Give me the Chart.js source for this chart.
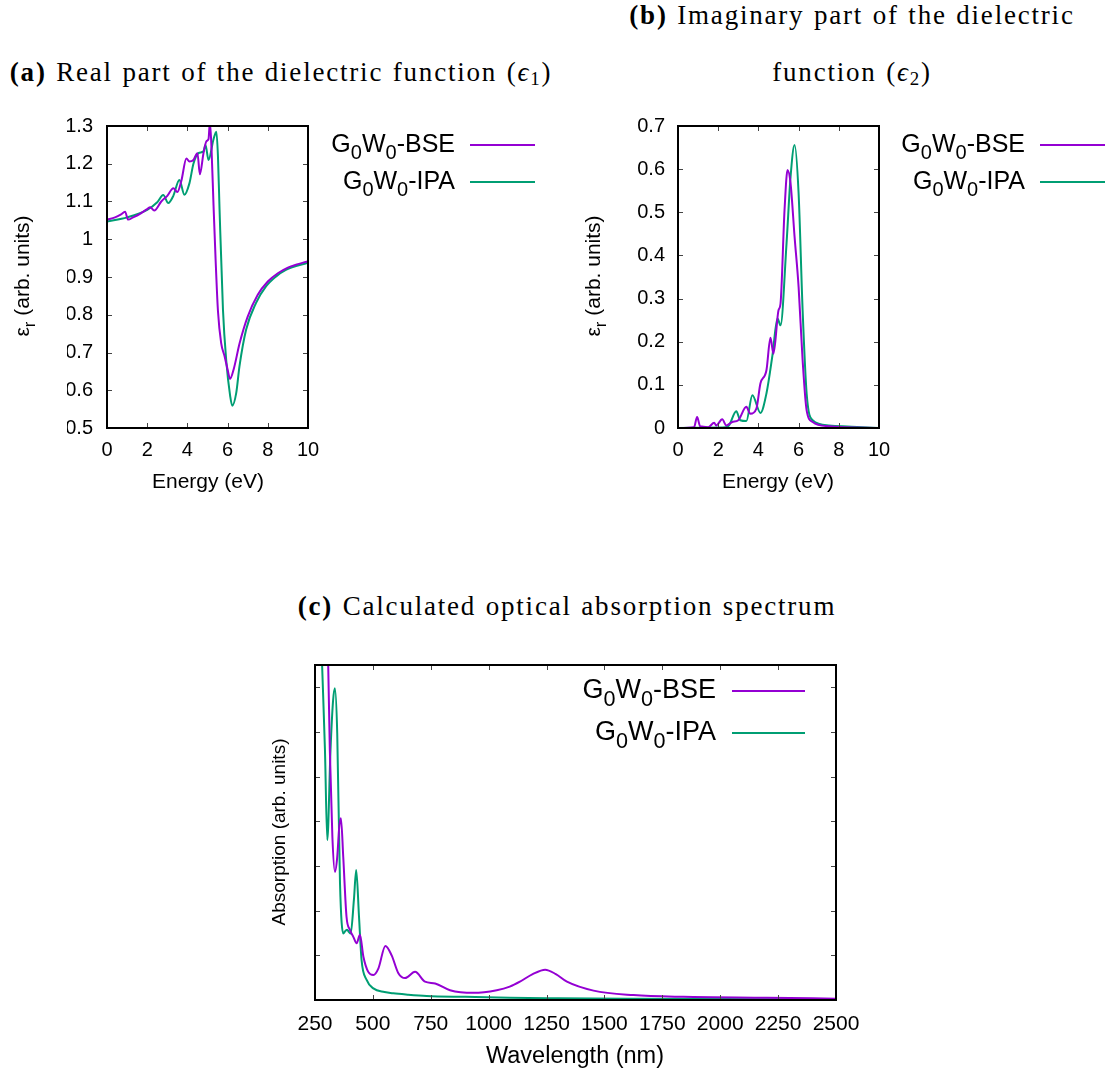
<!DOCTYPE html>
<html>
<head>
<meta charset="utf-8">
<script src="https://cdn.jsdelivr.net/npm/chart.js@4.4.0/dist/chart.umd.min.js"></script>
<style>
  body { margin: 0; background: #fff; width: 1109px; height: 1080px; position: relative; overflow: hidden; }
  canvas { position: absolute; left: 0; top: 0; }
  .ttl { position: absolute; font-family: "Liberation Serif", "Times New Roman", serif; font-size: 27px;
         letter-spacing: 1.8px; word-spacing: 1px;
         color: #000; white-space: nowrap; transform: translate(-50%, -50%); line-height: 1; }
  .ttl sub { font-size: 0.7em; vertical-align: -0.25em; line-height: 0; }
</style>
</head>
<body>
<div class="ttl" style="left:281px;top:72px"><b>(a)</b> Real part of the dielectric function (<i>&#x3F5;</i><sub>1</sub>)</div>
<div class="ttl" style="left:852px;top:15px"><b>(b)</b> Imaginary part of the dielectric</div>
<div class="ttl" style="left:852px;top:72px">function (<i>&#x3F5;</i><sub>2</sub>)</div>
<div class="ttl" style="left:567px;top:606px"><b>(c)</b> Calculated optical absorption spectrum</div>

<canvas id="cA" width="1109" height="1080"></canvas>
<canvas id="cB" width="1109" height="1080"></canvas>
<canvas id="cC" width="1109" height="1080"></canvas>

<script>
// ---------- data ----------
// (a) real part, energy in eV
const eA_bse = [0, 0.4, 0.7, 0.9, 1.05, 1.3, 1.6, 2.0, 2.15, 2.35, 2.7, 3.0, 3.3, 3.5, 3.7, 3.95, 4.1, 4.3, 4.5, 4.62,
                4.8, 4.95, 5.05, 5.12, 5.2, 5.3, 5.4, 5.52, 5.68, 5.85, 6.0, 6.12, 6.3, 6.6, 7.0, 7.5, 8.0, 8.5, 9.0, 9.5, 10];
const eps1_bse = [1.052, 1.058, 1.066, 1.073, 1.052, 1.058, 1.066, 1.080, 1.085, 1.076, 1.100, 1.115, 1.135, 1.125, 1.155,
                  1.214, 1.206, 1.210, 1.228, 1.172, 1.228, 1.260, 1.265, 1.31, 1.24, 1.09, 0.95, 0.81, 0.725, 0.69, 0.655,
                  0.63, 0.655, 0.725, 0.795, 0.853, 0.888, 0.910, 0.925, 0.934, 0.942];
const eA_ipa = [0, 1.0, 2.0, 2.5, 2.8, 3.05, 3.3, 3.6, 3.85, 4.1, 4.3, 4.55, 4.8, 4.9, 5.05, 5.3, 5.44, 5.52, 5.6, 5.77,
                5.93, 6.13, 6.23, 6.43, 6.59, 6.92, 7.41, 7.91, 8.4, 8.9, 10];
const eps1_ipa = [1.047, 1.058, 1.078, 1.098, 1.117, 1.096, 1.115, 1.157, 1.118, 1.148, 1.200, 1.228, 1.233, 1.25, 1.21,
                  1.265, 1.285, 1.22, 1.078, 0.813, 0.68, 0.584, 0.559, 0.593, 0.663, 0.76, 0.831, 0.875, 0.901, 0.919, 0.938];

// (b) imaginary part
const eB_bse = [0, 0.8, 0.95, 1.1, 1.5, 1.8, 1.9, 2.2, 2.4, 2.7, 3.0, 3.4, 3.6, 3.9, 4.1, 4.4, 4.6, 4.75, 5.0, 5.1,
                5.3, 5.45, 5.6, 5.8, 6.0, 6.2, 6.4, 6.7, 7.5, 10];
const eps2_bse = [0, 0.002, 0.0255, 0.004, 0.002, 0.012, 0.006, 0.02, 0.006, 0.014, 0.018, 0.049, 0.033, 0.045, 0.103,
                  0.134, 0.209, 0.172, 0.273, 0.288, 0.505, 0.598, 0.567, 0.443, 0.327, 0.157, 0.041, 0.014, 0.004, 0];
const eB_ipa = [0, 2.2, 2.5, 2.9, 3.1, 3.4, 3.7, 4.1, 4.4, 4.7, 4.95, 5.1, 5.4, 5.6, 5.8, 6.0, 6.2, 6.4, 6.7, 7.5, 10];
const eps2_ipa = [0, 0.001, 0.004, 0.039, 0.018, 0.016, 0.076, 0.035, 0.08, 0.169, 0.254, 0.238, 0.428, 0.582, 0.656,
                  0.544, 0.273, 0.08, 0.018, 0.006, 0];

// (c) absorption, wavelength in nm
const wl_bse = [290, 300, 307, 314, 325, 336, 346, 355, 362, 372, 386, 401, 415, 430, 444, 459, 480, 502, 524, 554,
                581, 610, 639, 682, 725, 769, 833, 934, 1035, 1091, 1135, 1190, 1244, 1290, 1338, 1453, 1625, 1841, 2201, 2500];
const abs_bse = [11, 8.6, 7.5, 5.6, 3.66, 2.87, 3.2, 3.9, 4.07, 3.2, 1.87, 1.57, 1.42, 1.27, 1.46, 0.97, 0.63, 0.56, 0.71,
                 1.21, 1.0, 0.6, 0.49, 0.63, 0.41, 0.37, 0.22, 0.16, 0.22, 0.30, 0.41, 0.58, 0.68, 0.58, 0.41, 0.21, 0.11,
                 0.07, 0.05, 0.03];
const wl_ipa = [265, 280, 293, 303, 317, 328, 336, 346, 358, 372, 382, 389, 397, 404, 418, 428, 440, 451, 473, 502, 550,
                588, 650, 732, 900, 1091, 1300, 1600, 2000, 2500];
const abs_ipa = [10, 7.6, 5.6, 3.58, 5.6, 6.7, 6.98, 5.97, 2.61, 1.49, 1.55, 1.57, 1.52, 1.49, 2.24, 2.91, 1.87, 0.90,
                 0.45, 0.26, 0.18, 0.15, 0.12, 0.09, 0.07, 0.05, 0.04, 0.03, 0.02, 0.015];

const seriesNames = ['-BSE', '-IPA'];
const PURPLE = '#9400d3';
const GREEN = '#009e73';
const SANS = '"Liberation Sans", Arial, sans-serif';
const W = 1109, H = 1080;

function fnt(size) { return size + 'px ' + SANS; }

// text with subscripts: parts = [[text, isSub], ...]
function richWidth(ctx, parts, size) {
  let w = 0;
  parts.forEach(([t, sub]) => { ctx.font = fnt(sub ? size * 0.8 : size); w += ctx.measureText(t).width; });
  return w;
}
function drawRich(ctx, parts, x, y, size, align) {
  const w = richWidth(ctx, parts, size);
  let cx = align === 'right' ? x - w : align === 'center' ? x - w / 2 : x;
  ctx.textAlign = 'left';
  ctx.textBaseline = 'alphabetic';
  ctx.fillStyle = '#000';
  parts.forEach(([t, sub]) => {
    ctx.font = fnt(sub ? size * 0.8 : size);
    ctx.fillText(t, cx, sub ? y + size * 0.28 : y);
    cx += ctx.measureText(t).width;
  });
}

// gnuplot-ish frame, mirrored inward ticks, legend and axis titles
function gpPlugin(spec) {
  return {
    id: 'gp',
    afterDatasetsDraw(chart) {
      const { ctx, chartArea: a, scales } = chart;
      const T = 5;
      ctx.save();
      ctx.strokeStyle = '#444';
      ctx.lineWidth = 1;
      ctx.beginPath();
      scales.x.ticks.forEach(t => {
        const px = Math.round(scales.x.getPixelForValue(t.value)) + 0.5;
        ctx.moveTo(px, a.bottom); ctx.lineTo(px, a.bottom - T);
        ctx.moveTo(px, a.top); ctx.lineTo(px, a.top + T);
      });
      scales.y.ticks.forEach(t => {
        const py = Math.round(scales.y.getPixelForValue(t.value)) + 0.5;
        ctx.moveTo(a.left, py); ctx.lineTo(a.left + T, py);
        ctx.moveTo(a.right, py); ctx.lineTo(a.right - T, py);
      });
      ctx.stroke();
      ctx.strokeStyle = '#000';
      ctx.lineWidth = 2;
      ctx.strokeRect(a.left, a.top, a.right - a.left, a.bottom - a.top);

      // legend: text right-aligned, sample line to the right
      spec.legend.rows.forEach((r, i) => {
        const parts = [['G', 0], ['0', 1], ['W', 0], ['0', 1], [seriesNames[i], 0]];
        drawRich(ctx, parts, spec.legend.textRight, r.base, spec.legend.size, 'right');
        ctx.strokeStyle = chart.data.datasets[i].borderColor;
        ctx.lineWidth = 2;
        ctx.beginPath();
        ctx.moveTo(spec.legend.x0, r.line);
        ctx.lineTo(spec.legend.x1, r.line);
        ctx.stroke();
      });

      // x title
      drawRich(ctx, [[spec.xTitle.text, 0]], spec.xTitle.x, spec.xTitle.y, spec.xTitle.size, 'center');
      // y title, rotated
      ctx.save();
      ctx.translate(spec.yTitle.x, spec.yTitle.y);
      ctx.rotate(-Math.PI / 2);
      drawRich(ctx, spec.yTitle.parts, 0, 0, spec.yTitle.size, 'center');
      ctx.restore();
      ctx.restore();
    }
  };
}

function series(xs, ys, color) {
  return {
    data: xs.map((x, i) => ({ x: x, y: ys[i] })),
    borderColor: color,
    borderWidth: 2,
    pointRadius: 0,
    fill: false,
    cubicInterpolationMode: 'monotone'
  };
}

function makeChart(id, box, axes, datasets, spec) {
  const yW = 40, xH = 40;
  return new Chart(document.getElementById(id), {
    type: 'line',
    data: { datasets: datasets },
    options: {
      responsive: false,
      animation: false,
      events: [],
      layout: { padding: { left: box.L - yW, top: box.T, right: W - box.R, bottom: H - box.B - xH } },
      plugins: { legend: { display: false }, tooltip: { enabled: false } },
      scales: {
        x: {
          type: 'linear', min: axes.x.min, max: axes.x.max,
          grid: { display: false, drawTicks: false }, border: { display: false },
          ticks: { stepSize: axes.x.step, color: '#000', font: { family: SANS, size: axes.x.size },
                   padding: axes.x.pad, maxRotation: 0, autoSkip: false, callback: v => String(+v.toFixed(2)) },
          afterFit: s => { s.height = xH; }
        },
        y: {
          type: 'linear', min: axes.y.min, max: axes.y.max,
          grid: { display: false, drawTicks: false }, border: { display: false },
          ticks: { display: axes.y.labels, stepSize: axes.y.step, color: '#000', font: { family: SANS, size: axes.y.size },
                   padding: axes.y.pad, callback: v => String(+v.toFixed(2)) },
          afterFit: s => { s.width = yW; }
        }
      }
    },
    plugins: [gpPlugin(spec)]
  });
}

const epsParts = [['\u03B5', 0], ['r', 1], [' (arb. units)', 0]];

makeChart('cA', { L: 107, R: 308, T: 126, B: 428 },
  { x: { min: 0, max: 10, step: 2, size: 20, pad: 10 }, y: { min: 0.5, max: 1.3, step: 0.1, size: 20, pad: 14, labels: true } },
  [series(eA_bse, eps1_bse, PURPLE), series(eA_ipa, eps1_ipa, GREEN)],
  { legend: { textRight: 455, x0: 470, x1: 535, size: 25, rows: [{ base: 152, line: 145 }, { base: 189, line: 182 }] },
    xTitle: { text: 'Energy (eV)', x: 208, y: 488, size: 21 },
    yTitle: { parts: epsParts, x: 29, y: 276, size: 21 } });

makeChart('cB', { L: 678, R: 879, T: 126, B: 428 },
  { x: { min: 0, max: 10, step: 2, size: 20, pad: 10 }, y: { min: 0, max: 0.7, step: 0.1, size: 20, pad: 13, labels: true } },
  [series(eB_bse, eps2_bse, PURPLE), series(eB_ipa, eps2_ipa, GREEN)],
  { legend: { textRight: 1025, x0: 1040, x1: 1105, size: 25, rows: [{ base: 152, line: 145 }, { base: 189, line: 182 }] },
    xTitle: { text: 'Energy (eV)', x: 778, y: 488, size: 21 },
    yTitle: { parts: epsParts, x: 600, y: 276, size: 21 } });

makeChart('cC', { L: 315, R: 836, T: 665, B: 1000 },
  { x: { min: 250, max: 2500, step: 250, size: 21, pad: 12 }, y: { min: 0, max: 7.5, step: 1, size: 18, pad: 10, labels: false } },
  [series(wl_bse, abs_bse, PURPLE), series(wl_ipa, abs_ipa, GREEN)],
  { legend: { textRight: 716, x0: 732, x1: 805, size: 27, rows: [{ base: 698, line: 691 }, { base: 740, line: 733 }] },
    xTitle: { text: 'Wavelength (nm)', x: 575, y: 1063, size: 23.5 },
    yTitle: { parts: [['Absorption (arb. units)', 0]], x: 285, y: 832, size: 19 } });
</script>
</body>
</html>
